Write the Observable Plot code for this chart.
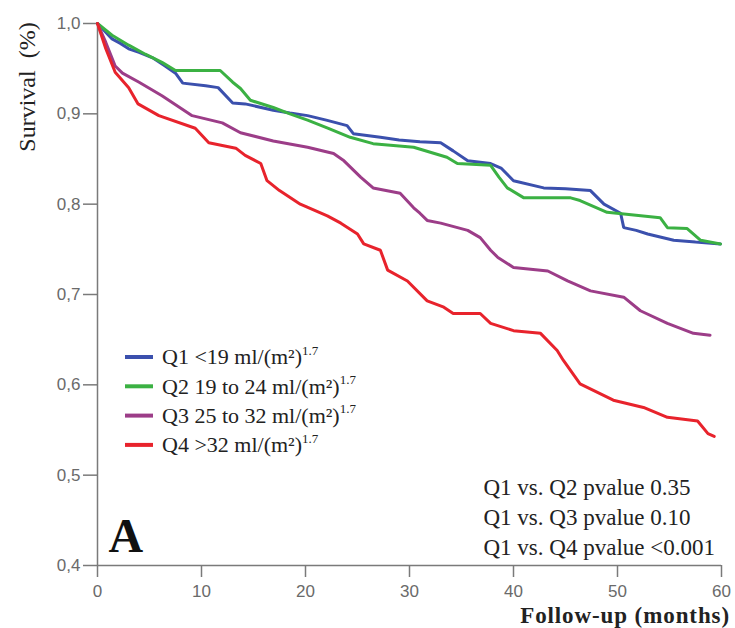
<!DOCTYPE html>
<html>
<head>
<meta charset="utf-8">
<script src="https://cdn.jsdelivr.net/npm/d3@7"></script>
<script src="https://cdn.jsdelivr.net/npm/@observablehq/plot@0.6"></script>
<style>
  html, body { margin: 0; padding: 0; background: #fff; }
  #chart { position: relative; width: 735px; height: 628px; }
</style>
</head>
<body>
<div id="chart"></div>
<script>
// ---- data ----
const seriesNames = ["Q1", "Q2", "Q3", "Q4"];
const seriesColors = ["#3b50ad", "#3bb143", "#9c3d88", "#e8232c"];
const legendLabels = ["Q1 <19 ml/(m²)", "Q2 19 to 24 ml/(m²)", "Q3 25 to 32 ml/(m²)", "Q4 >32 ml/(m²)"];
const legendExponent = "1.7";

const q1Months = [0, 1.4, 2.2, 3, 4, 5.3, 6.5, 7.5, 8.2, 10.4, 11.6, 13, 14.2, 16.9, 18.5, 20.2, 22, 24, 24.6, 27.2, 29, 31, 33, 34.2, 35.6, 37.8, 38.8, 40, 42.9, 45, 47.4, 48.7, 50.3, 50.6, 51.8, 52.9, 54, 55.4, 57.5, 59.9];
const q1Surv   = [1.0, 0.983, 0.978, 0.972, 0.968, 0.962, 0.953, 0.945, 0.934, 0.931, 0.929, 0.912, 0.911, 0.904, 0.901, 0.898, 0.893, 0.887, 0.878, 0.874, 0.871, 0.869, 0.868, 0.859, 0.848, 0.845, 0.84, 0.826, 0.818, 0.817, 0.815, 0.80, 0.79, 0.774, 0.771, 0.767, 0.764, 0.76, 0.758, 0.756];

const q2Months = [0, 1.4, 3, 4.6, 6.2, 7.5, 11.8, 13, 13.75, 14.7, 16.9, 18.5, 20.2, 22.2, 24.3, 26.5, 30.4, 33.6, 34.6, 37.8, 38.6, 39.4, 41, 45.5, 46.4, 49, 54.1, 54.8, 56.7, 58, 59.9];
const q2Surv   = [1.0, 0.987, 0.976, 0.966, 0.957, 0.948, 0.948, 0.935, 0.928, 0.915, 0.907, 0.9, 0.893, 0.884, 0.874, 0.867, 0.863, 0.852, 0.845, 0.843, 0.83, 0.818, 0.807, 0.807, 0.804, 0.791, 0.785, 0.774, 0.773, 0.76, 0.756];

const q3Months = [0, 0.8, 1.7, 2.4, 4, 6.2, 9.1, 12, 13.75, 16.9, 20.2, 22.7, 23.7, 25.3, 26.5, 29.1, 30.4, 31, 31.7, 33, 35.6, 36.8, 37.8, 38.5, 40, 43.3, 45.2, 47.4, 50.6, 52.2, 54.8, 57.3, 58.9];
const q3Surv   = [1.0, 0.979, 0.953, 0.945, 0.935, 0.92, 0.898, 0.89, 0.879, 0.87, 0.863, 0.856, 0.848, 0.83, 0.818, 0.812, 0.796, 0.79, 0.782, 0.779, 0.771, 0.763, 0.749, 0.741, 0.73, 0.726, 0.715, 0.704, 0.697, 0.682, 0.668, 0.657, 0.655];

const q4Months = [0, 0.8, 1.7, 3, 3.9, 5.9, 9.4, 10.7, 13.3, 14.2, 15.7, 16.3, 17.5, 19.5, 22.1, 23.4, 25, 25.6, 27.2, 27.9, 29.8, 31.7, 33.3, 34.2, 36.8, 37.8, 40, 42.6, 44.2, 44.8, 46.4, 49.6, 52.5, 54.8, 57.7, 58.7, 59.3];
const q4Surv   = [1.0, 0.972, 0.946, 0.929, 0.911, 0.898, 0.884, 0.868, 0.862, 0.854, 0.845, 0.826, 0.815, 0.80, 0.787, 0.779, 0.767, 0.756, 0.749, 0.727, 0.715, 0.693, 0.686, 0.679, 0.679, 0.668, 0.66, 0.657, 0.638, 0.627, 0.601, 0.583, 0.575, 0.564, 0.56, 0.546, 0.543];

const xTicks = [0, 10, 20, 30, 40, 50, 60];
const yTicks = [0.4, 0.5, 0.6, 0.7, 0.8, 0.9, 1.0];
const yAxisTitle = "Survival\u00a0 (%)";
const xAxisTitle = "Follow-up (months)";
const panelLetter = "A";
const pvalueLines = ["Q1 vs. Q2 pvalue 0.35", "Q1 vs. Q3 pvalue 0.10", "Q1 vs. Q4 pvalue <0.001"];

// ---- build table ----
const monthsBySeries = [q1Months, q2Months, q3Months, q4Months];
const survBySeries = [q1Surv, q2Surv, q3Surv, q4Surv];
const rows = seriesNames.flatMap((name, i) =>
  monthsBySeries[i].map((t, j) => ({series: name, t, s: survBySeries[i][j]}))
);

const serif = "'Liberation Serif', 'Times New Roman', serif";
const sans = "'Liberation Sans', Arial, sans-serif";

const chart = Plot.plot({
  width: 735,
  height: 628,
  marginLeft: 97,
  marginRight: 14,
  marginTop: 23,
  marginBottom: 63,
  style: {background: "#fff", fontFamily: sans, overflow: "visible"},
  x: {domain: [0, 60]},
  y: {domain: [0.4, 1.0]},
  color: {domain: seriesNames, range: seriesColors},
  marks: [
    Plot.axisY({ticks: yTicks, tickSize: 14, tickPadding: 3, fontSize: 17, stroke: "#7a7a7a", strokeWidth: 1.5, fill: "#6a6a6a", label: null,
      tickFormat: d => d.toFixed(1).replace(".", ",")}),
    Plot.axisX({ticks: xTicks, tickSize: 12, tickPadding: 7, fontSize: 17, stroke: "#7a7a7a", strokeWidth: 1.5, fill: "#6a6a6a", label: null}),
    Plot.ruleX([0], {stroke: "#7a7a7a", strokeWidth: 1.5}),
    Plot.ruleY([0.4], {stroke: "#7a7a7a", strokeWidth: 1.5}),
    Plot.line(rows, {x: "t", y: "s", z: "series", stroke: "series", curve: "linear", strokeWidth: 3, strokeLinejoin: "miter"}),
    Plot.text([panelLetter], {frameAnchor: "bottom-left", textAnchor: "start", lineAnchor: "middle", dx: 11, dy: -29, fontSize: 48, fontWeight: "bold", fontFamily: serif, fill: "#111"}),
    Plot.text([pvalueLines.join("\n")], {frameAnchor: "bottom-left", textAnchor: "start", lineAnchor: "middle", dx: 386, dy: -50, lineHeight: 1.3, fontSize: 23, fontFamily: serif, fill: "#222"})
  ]
});

document.getElementById("chart").appendChild(chart);

const svg = d3.select(chart);

// ---- axis titles ----
svg.append("text")
  .attr("transform", "translate(27,87) rotate(-90)")
  .attr("text-anchor", "middle").attr("dy", "0.32em")
  .attr("font-family", serif).attr("font-size", 24).attr("fill", "#222")
  .style("white-space", "pre")
  .text(yAxisTitle);

svg.append("text")
  .attr("x", 730).attr("y", 616)
  .attr("text-anchor", "end").attr("dy", "0.32em")
  .attr("font-family", serif).attr("font-size", 23).attr("font-weight", "bold")
  .attr("letter-spacing", "0.9px").attr("fill", "#222")
  .text(xAxisTitle);

// ---- legend (inside the plot area) ----
const lg = svg.append("g").attr("font-family", serif).attr("font-size", 22).attr("fill", "#222").attr("text-anchor", "start");
seriesNames.forEach((name, i) => {
  const cy = 357 + i * 29.3;
  lg.append("line").attr("x1", 125).attr("x2", 153).attr("y1", cy).attr("y2", cy)
    .attr("stroke", seriesColors[i]).attr("stroke-width", 4);
  const t = lg.append("text").attr("x", 162).attr("y", cy).attr("dy", "0.34em");
  t.append("tspan").text(legendLabels[i]);
  t.append("tspan").attr("font-size", 13).attr("dy", "-0.75em").text(legendExponent);
});
</script>
</body>
</html>
